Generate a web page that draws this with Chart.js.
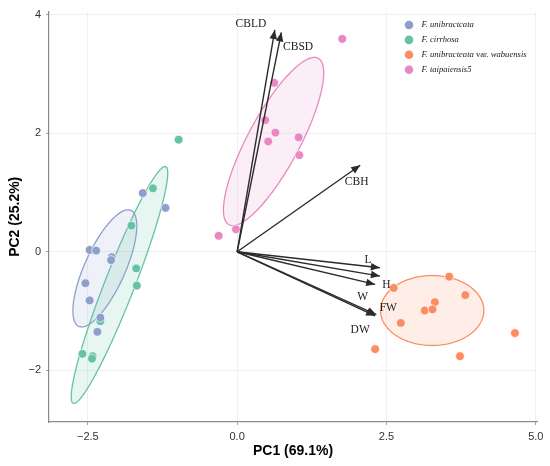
<!DOCTYPE html>
<html>
<head>
<meta charset="utf-8">
<title>PCA biplot</title>
<script src="https://cdn.jsdelivr.net/npm/chart.js@4.4.1/dist/chart.umd.min.js"></script>
<style>
html, body { margin: 0; padding: 0; background: #ffffff; }
#chart_wrap { width: 550px; height: 466px; }
</style>
</head>
<body>
<div id="chart_wrap"><canvas id="chart_pca"></canvas></div>
<script>
// groups, in legend order
const group_labels = ['F. unibractcata', 'F. cirrhosa', 'F. unibracteata var. wabuensis', 'F. taipaiensis5'];

// sample scores
const unibractcata_pc1 = [-1.58, -1.20, -2.47, -2.36, -2.10, -2.11, -2.54, -2.47, -2.29, -2.34];
const unibractcata_pc2 = [0.99, 0.74, 0.03, 0.02, -0.09, -0.14, -0.53, -0.82, -1.11, -1.35];

const cirrhosa_pc1 = [-0.98, -1.41, -1.77, -1.69, -1.68, -2.29, -2.59, -2.42, -2.43];
const cirrhosa_pc2 = [1.89, 1.07, 0.44, -0.28, -0.57, -1.17, -1.72, -1.76, -1.80];

const wabuensis_pc1 = [3.55, 2.62, 3.82, 3.31, 3.14, 3.27, 2.74, 4.65, 2.31, 3.73];
const wabuensis_pc2 = [-0.42, -0.61, -0.73, -0.85, -0.99, -0.97, -1.20, -1.37, -1.64, -1.76];

const taipaiensis_pc1 = [1.76, 0.62, 0.47, 0.64, 0.52, 1.03, 1.04, -0.02, -0.31];
const taipaiensis_pc2 = [3.59, 2.85, 2.22, 2.01, 1.86, 1.93, 1.63, 0.38, 0.27];

// group ellipses (data units, same order as group_labels)
const ellipse_center_pc1 = [-2.215, -1.97, 3.265, 0.61];
const ellipse_center_pc2 = [-0.28, -0.56, -0.99, 1.86];
const ellipse_semi_major = [1.07, 2.14, 0.865, 1.59];
const ellipse_semi_minor = [0.34, 0.25, 0.59, 0.435];
const ellipse_angle_deg = [66, 68.8, 0, 62];

// variable loadings (arrow tips) and label anchors
const loading_names = ['CBLD', 'CBSD', 'CBH', 'L', 'H', 'W', 'FW', 'DW'];
const loading_pc1 = [0.63, 0.74, 2.06, 2.39, 2.39, 2.31, 2.33, 2.31];
const loading_pc2 = [3.74, 3.70, 1.46, -0.27, -0.41, -0.55, -1.06, -1.08];
const loading_label_pc1 = [0.23, 1.02, 2.00, 2.19, 2.50, 2.10, 2.53, 2.06];
const loading_label_pc2 = [3.84, 3.46, 1.18, -0.13, -0.56, -0.77, -0.95, -1.32];

// axis ticks
const pc1_ticks = [-2.5, 0, 2.5, 5];
const pc2_ticks = [-2, 0, 2, 4];

const group_colors = ['#8DA0CB', '#66C2A5', '#FC8D62', '#E78AC3'];
const arrow_color = '#2b2b2b';

function hex_alpha(hex, alpha) {
    const r = parseInt(hex.slice(1, 3), 16);
    const g = parseInt(hex.slice(3, 5), 16);
    const b = parseInt(hex.slice(5, 7), 16);
    return 'rgba(' + r + ',' + g + ',' + b + ',' + alpha + ')';
}

function zip_points(xs, ys) {
    return xs.map((x, i) => ({ x: x, y: ys[i] }));
}

function minus_sign(text) {
    return String(text).replace('-', '\u2212');
}

const group_ellipses = {
    id: 'group_ellipses',
    beforeDatasetsDraw(chart) {
        const ctx = chart.ctx;
        const area = chart.chartArea;
        const sx = chart.scales.x;
        const sy = chart.scales.y;
        ctx.save();
        ctx.beginPath();
        ctx.rect(area.left, area.top, area.right - area.left, area.bottom - area.top);
        ctx.clip();
        for (let g = 0; g < group_labels.length; g++) {
            const rad = ellipse_angle_deg[g] * Math.PI / 180;
            const c = Math.cos(rad);
            const s = Math.sin(rad);
            ctx.beginPath();
            for (let k = 0; k <= 180; k++) {
                const t = k / 180 * 2 * Math.PI;
                const u = ellipse_semi_major[g] * Math.cos(t);
                const v = ellipse_semi_minor[g] * Math.sin(t);
                const px = sx.getPixelForValue(ellipse_center_pc1[g] + u * c - v * s);
                const py = sy.getPixelForValue(ellipse_center_pc2[g] + u * s + v * c);
                if (k === 0) {
                    ctx.moveTo(px, py);
                } else {
                    ctx.lineTo(px, py);
                }
            }
            ctx.closePath();
            ctx.fillStyle = hex_alpha(group_colors[g], 0.15);
            ctx.fill();
            ctx.strokeStyle = group_colors[g];
            ctx.lineWidth = 1.3;
            ctx.stroke();
        }
        ctx.restore();
    },
};

const loading_heads = {
    id: 'loading_heads',
    afterDatasetsDraw(chart) {
        const ctx = chart.ctx;
        const sx = chart.scales.x;
        const sy = chart.scales.y;
        const x0 = sx.getPixelForValue(0);
        const y0 = sy.getPixelForValue(0);
        ctx.save();
        for (let i = 0; i < loading_names.length; i++) {
            const tx = sx.getPixelForValue(loading_pc1[i]);
            const ty = sy.getPixelForValue(loading_pc2[i]);
            const ang = Math.atan2(ty - y0, tx - x0);
            const head_len = 9;
            const head_half = 3.8;
            const bx = tx - head_len * Math.cos(ang);
            const by = ty - head_len * Math.sin(ang);
            ctx.beginPath();
            ctx.moveTo(tx, ty);
            ctx.lineTo(bx - head_half * Math.sin(ang), by + head_half * Math.cos(ang));
            ctx.lineTo(bx + head_half * Math.sin(ang), by - head_half * Math.cos(ang));
            ctx.closePath();
            ctx.fillStyle = arrow_color;
            ctx.fill();
        }
        ctx.font = '11.5px "Liberation Serif", "Times New Roman", serif';
        ctx.fillStyle = '#1a1a1a';
        ctx.textAlign = 'center';
        ctx.textBaseline = 'middle';
        for (let i = 0; i < loading_names.length; i++) {
            ctx.fillText(
                loading_names[i],
                sx.getPixelForValue(loading_label_pc1[i]),
                sy.getPixelForValue(loading_label_pc2[i])
            );
        }
        ctx.restore();
    },
};

const species_legend = {
    id: 'species_legend',
    afterDraw(chart) {
        const ctx = chart.ctx;
        const dot_x = 409;
        const text_x = 421.5;
        const row_y = 25;
        const row_gap = 14.9;
        const italic_font = 'italic 8.6px "Liberation Serif", "Times New Roman", serif';
        const plain_font = '8.6px "Liberation Serif", "Times New Roman", serif';
        ctx.save();
        ctx.textBaseline = 'middle';
        ctx.textAlign = 'left';
        for (let g = 0; g < group_labels.length; g++) {
            const y = row_y + g * row_gap;
            ctx.beginPath();
            ctx.arc(dot_x, y, 4.3, 0, 2 * Math.PI);
            ctx.fillStyle = group_colors[g];
            ctx.fill();

            ctx.fillStyle = '#1a1a1a';
            const parts = group_labels[g].split(' var. ');
            let x = text_x;
            ctx.font = italic_font;
            ctx.fillText(parts[0], x, y);
            x += ctx.measureText(parts[0]).width;
            if (parts.length > 1) {
                ctx.font = plain_font;
                ctx.fillText(' var. ', x, y);
                x += ctx.measureText(' var. ').width;
                ctx.font = italic_font;
                ctx.fillText(parts[1], x, y);
            }
        }
        ctx.restore();
    },
};

function build_datasets() {
    const score_sets = [
        zip_points(unibractcata_pc1, unibractcata_pc2),
        zip_points(cirrhosa_pc1, cirrhosa_pc2),
        zip_points(wabuensis_pc1, wabuensis_pc2),
        zip_points(taipaiensis_pc1, taipaiensis_pc2),
    ];
    const datasets = score_sets.map((pts, g) => ({
        label: group_labels[g],
        data: pts,
        order: 2,
        pointRadius: 4.4,
        pointHoverRadius: 4.4,
        backgroundColor: group_colors[g],
        borderColor: '#ffffff',
        borderWidth: 0.7,
        showLine: false,
    }));
    loading_names.forEach((name, i) => {
        datasets.push({
            label: name,
            data: [{ x: 0, y: 0 }, { x: loading_pc1[i], y: loading_pc2[i] }],
            order: 1,
            showLine: true,
            borderColor: arrow_color,
            borderWidth: 1.4,
            pointRadius: 0,
            pointHoverRadius: 0,
            fill: false,
        });
    });
    return datasets;
}

function axis_options(ticks_list, min, max, title, is_x) {
    return {
        type: 'linear',
        position: is_x ? 'bottom' : 'left',
        min: min,
        max: max,
        afterBuildTicks(scale) {
            scale.ticks = ticks_list.map((v) => ({ value: v }));
        },
        afterFit(scale) {
            if (is_x) {
                scale.height = 44;
            } else {
                scale.width = 49;
            }
        },
        ticks: {
            color: '#333333',
            padding: is_x ? 5 : 5,
            font: { family: '"Liberation Sans", Arial, sans-serif', size: 11 },
            callback(value) {
                return minus_sign(is_x ? Number(value).toFixed(1) : String(value));
            },
        },
        grid: {
            color: '#ececec',
            lineWidth: 0.8,
            tickColor: '#8a8a8a',
            tickLength: 3,
            drawTicks: true,
        },
        border: {
            display: true,
            color: '#8a8a8a',
            width: 1.2,
        },
        title: {
            display: true,
            text: title,
            color: '#000000',
            font: { family: '"Liberation Sans", Arial, sans-serif', size: 14, weight: 'bold' },
            padding: is_x ? { top: 0, bottom: 6 } : { top: 7, bottom: 0 },
        },
    };
}

function render_pca_chart() {
    const canvas = document.getElementById('chart_pca');
    if (!canvas || typeof Chart === 'undefined') {
        return;
    }
    new Chart(canvas.getContext('2d'), {
        type: 'scatter',
        data: { datasets: build_datasets() },
        options: {
            responsive: true,
            maintainAspectRatio: false,
            animation: false,
            layout: { padding: { top: 8, right: 13, left: 0, bottom: 0 } },
            plugins: {
                legend: { display: false },
                tooltip: { enabled: false },
            },
            scales: {
                x: axis_options(pc1_ticks, -3.15, 5.02, 'PC1 (69.1%)', true),
                y: axis_options(pc2_ticks, -2.87, 4.05, 'PC2 (25.2%)', false),
            },
        },
        plugins: [group_ellipses, loading_heads, species_legend],
    });
}

render_pca_chart();
</script>
</body>
</html>
